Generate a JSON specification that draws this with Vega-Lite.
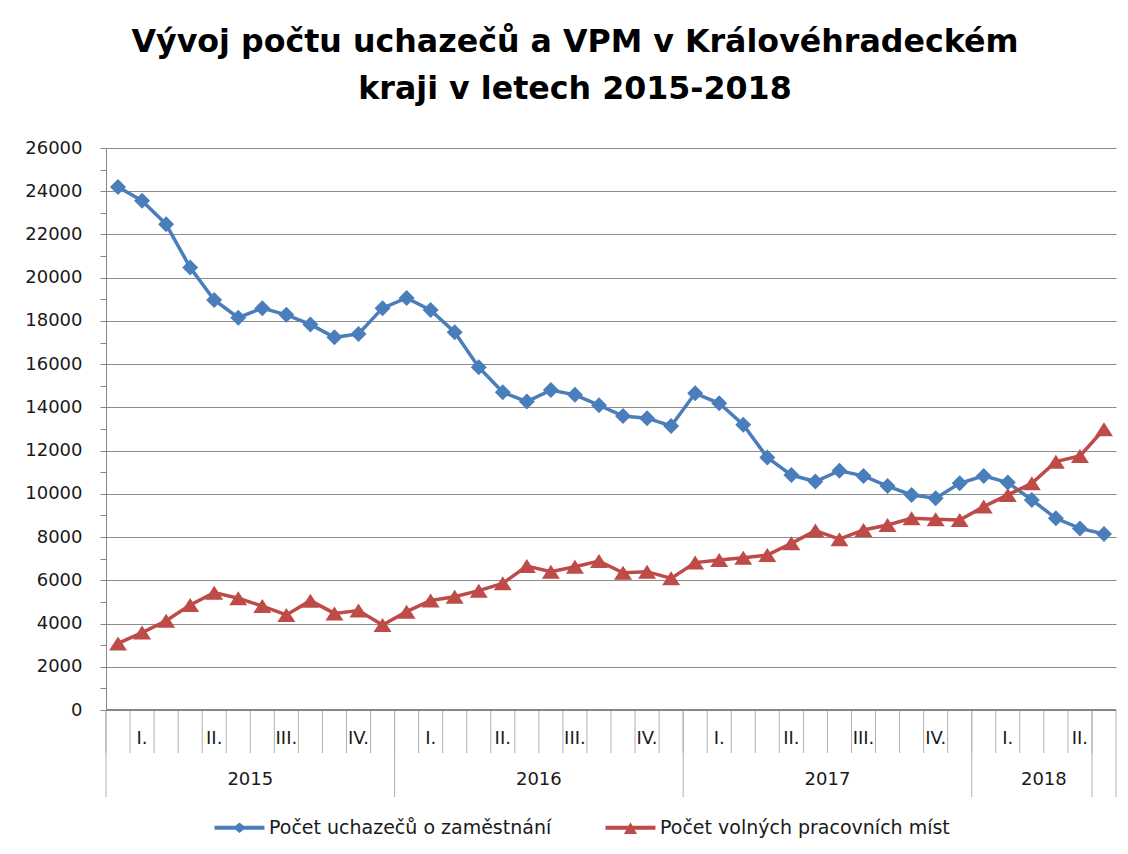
{
  "$schema": "https://vega.github.io/schema/vega-lite/v6.json",
  "width": 1010,
  "height": 562,
  "autosize": "none",
  "padding": {"left": 106, "top": 148, "right": 12, "bottom": 144},
  "background": "white",
  "title": {
    "text": ["Vývoj počtu uchazečů a VPM v Královéhradeckém", "kraji v letech 2015-2018"],
    "font": "DejaVu Sans", "fontSize": 31.7, "fontWeight": "bold", "color": "#000000",
    "lineHeight": 47, "anchor": "middle", "dx": -36, "offset": 33
  },
  "config": {
    "view": {"stroke": null},
    "legend": {"labelFont": "DejaVu Sans", "labelFontSize": 19, "labelColor": "#1a1a1a", "labelLimit": 500, "symbolStrokeWidth": 0, "symbolOpacity": 1, "symbolSize": 196, "labelOffset": 38, "columnPadding": 51}
  },
  "data": {
    "values": [
      {"month": "2015-01", "uchazeci": 24200, "vpm": 3080},
      {"month": "2015-02", "uchazeci": 23560, "vpm": 3580},
      {"month": "2015-03", "uchazeci": 22470, "vpm": 4130},
      {"month": "2015-04", "uchazeci": 20470, "vpm": 4860},
      {"month": "2015-05", "uchazeci": 18970, "vpm": 5430},
      {"month": "2015-06", "uchazeci": 18150, "vpm": 5170},
      {"month": "2015-07", "uchazeci": 18590, "vpm": 4810},
      {"month": "2015-08", "uchazeci": 18280, "vpm": 4400},
      {"month": "2015-09", "uchazeci": 17840, "vpm": 5060},
      {"month": "2015-10", "uchazeci": 17240, "vpm": 4470},
      {"month": "2015-11", "uchazeci": 17400, "vpm": 4600},
      {"month": "2015-12", "uchazeci": 18590, "vpm": 3930},
      {"month": "2016-01", "uchazeci": 19060, "vpm": 4550},
      {"month": "2016-02", "uchazeci": 18500, "vpm": 5070},
      {"month": "2016-03", "uchazeci": 17480, "vpm": 5240},
      {"month": "2016-04", "uchazeci": 15860, "vpm": 5520},
      {"month": "2016-05", "uchazeci": 14700, "vpm": 5860},
      {"month": "2016-06", "uchazeci": 14270, "vpm": 6660},
      {"month": "2016-07", "uchazeci": 14800, "vpm": 6400},
      {"month": "2016-08", "uchazeci": 14580, "vpm": 6630},
      {"month": "2016-09", "uchazeci": 14100, "vpm": 6890},
      {"month": "2016-10", "uchazeci": 13600, "vpm": 6350},
      {"month": "2016-11", "uchazeci": 13500, "vpm": 6400},
      {"month": "2016-12", "uchazeci": 13140, "vpm": 6090},
      {"month": "2017-01", "uchazeci": 14650, "vpm": 6820},
      {"month": "2017-02", "uchazeci": 14190, "vpm": 6940},
      {"month": "2017-03", "uchazeci": 13200, "vpm": 7040},
      {"month": "2017-04", "uchazeci": 11680, "vpm": 7170},
      {"month": "2017-05", "uchazeci": 10870, "vpm": 7710},
      {"month": "2017-06", "uchazeci": 10570, "vpm": 8300},
      {"month": "2017-07", "uchazeci": 11070, "vpm": 7900},
      {"month": "2017-08", "uchazeci": 10830, "vpm": 8330},
      {"month": "2017-09", "uchazeci": 10360, "vpm": 8560},
      {"month": "2017-10", "uchazeci": 9950, "vpm": 8870},
      {"month": "2017-11", "uchazeci": 9800, "vpm": 8820},
      {"month": "2017-12", "uchazeci": 10490, "vpm": 8790},
      {"month": "2018-01", "uchazeci": 10830, "vpm": 9410},
      {"month": "2018-02", "uchazeci": 10520, "vpm": 9950},
      {"month": "2018-03", "uchazeci": 9720, "vpm": 10490},
      {"month": "2018-04", "uchazeci": 8870, "vpm": 11490},
      {"month": "2018-05", "uchazeci": 8400, "vpm": 11750},
      {"month": "2018-06", "uchazeci": 8140, "vpm": 12990}
    ]
  },
  "resolve": {"axis": {"y": "independent"}},
  "layer": [
    {
      "mark": {"type": "rule", "color": "#b0b0b0", "strokeWidth": 1, "y2Offset": 43},
      "encoding": {
        "x": {"field": "month", "type": "ordinal", "bandPosition": 0, "scale": {"type": "band", "paddingInner": 0, "paddingOuter": 0}, "axis": null},
        "y": {"datum": 0, "type": "quantitative", "scale": {"domain": [0, 26000], "nice": false}, "axis": null},
        "y2": {"datum": 0}
      }
    },
    {
      "data": {"values": [
        {"year": "2015", "start": "2015-01", "mid": "2015-07"},
        {"year": "2016", "start": "2016-01", "mid": "2016-07"},
        {"year": "2017", "start": "2017-01", "mid": "2017-07"},
        {"year": "2018", "start": "2018-01", "mid": "2018-04"}
      ]},
      "layer": [
        {
          "mark": {"type": "rule", "color": "#b0b0b0", "strokeWidth": 1, "y2Offset": 87},
          "encoding": {
            "x": {"field": "start", "type": "ordinal", "bandPosition": 0, "scale": {"type": "band", "paddingInner": 0, "paddingOuter": 0}, "axis": null},
            "y": {"datum": 0, "type": "quantitative", "scale": {"domain": [0, 26000], "nice": false}, "axis": null},
            "y2": {"datum": 0}
          }
        },
        {
          "mark": {"type": "text", "font": "DejaVu Sans", "fontSize": 18, "color": "#1a1a1a", "baseline": "middle", "align": "center", "yOffset": 70},
          "encoding": {
            "x": {"field": "mid", "type": "ordinal", "bandPosition": 0, "scale": {"type": "band", "paddingInner": 0, "paddingOuter": 0}, "axis": null},
            "y": {"datum": 0, "type": "quantitative", "scale": {"domain": [0, 26000], "nice": false}, "axis": null},
            "text": {"field": "year"}
          }
        }
      ]
    },
    {
      "data": {"values": [{"m": "2018-06"}]},
      "layer": [
        {
          "mark": {"type": "rule", "color": "#b0b0b0", "strokeWidth": 1, "y2Offset": 87},
          "encoding": {
            "x": {"field": "m", "type": "ordinal", "bandPosition": 0, "scale": {"type": "band", "paddingInner": 0, "paddingOuter": 0}, "axis": null},
            "y": {"datum": 0, "type": "quantitative", "scale": {"domain": [0, 26000], "nice": false}, "axis": null},
            "y2": {"datum": 0}
          }
        },
        {
          "mark": {"type": "rule", "color": "#b0b0b0", "strokeWidth": 1, "y2Offset": 87},
          "encoding": {
            "x": {"field": "m", "type": "ordinal", "bandPosition": 1, "scale": {"type": "band", "paddingInner": 0, "paddingOuter": 0}, "axis": null},
            "y": {"datum": 0, "type": "quantitative", "scale": {"domain": [0, 26000], "nice": false}, "axis": null},
            "y2": {"datum": 0}
          }
        }
      ]
    },
    {
      "data": {"values": [
        {"q": "I.", "m": "2015-02"}, {"q": "II.", "m": "2015-05"}, {"q": "III.", "m": "2015-08"}, {"q": "IV.", "m": "2015-11"},
        {"q": "I.", "m": "2016-02"}, {"q": "II.", "m": "2016-05"}, {"q": "III.", "m": "2016-08"}, {"q": "IV.", "m": "2016-11"},
        {"q": "I.", "m": "2017-02"}, {"q": "II.", "m": "2017-05"}, {"q": "III.", "m": "2017-08"}, {"q": "IV.", "m": "2017-11"},
        {"q": "I.", "m": "2018-02"}, {"q": "II.", "m": "2018-05"}
      ]},
      "mark": {"type": "text", "font": "DejaVu Sans", "fontSize": 18, "color": "#1a1a1a", "baseline": "middle", "align": "center", "yOffset": 29},
      "encoding": {
        "x": {"field": "m", "type": "ordinal", "scale": {"type": "band", "paddingInner": 0, "paddingOuter": 0}, "axis": null},
        "y": {"datum": 0, "type": "quantitative", "scale": {"domain": [0, 26000], "nice": false}, "axis": null},
        "text": {"field": "q"}
      }
    },
    {
      "mark": {"type": "rule", "color": "#868686", "strokeWidth": 1},
      "encoding": {
        "y": {"datum": 0, "type": "quantitative", "scale": {"domain": [0, 26000], "nice": false}, "axis": null}
      }
    },
    {
      "mark": {"type": "line", "color": "#4A7EBB", "strokeWidth": 3.5},
      "encoding": {
        "x": {"field": "month", "type": "ordinal", "scale": {"type": "band", "paddingInner": 0, "paddingOuter": 0}, "axis": null},
        "y": {
          "field": "uchazeci", "type": "quantitative",
          "scale": {"domain": [0, 26000], "nice": false},
          "axis": {
            "orient": "left", "title": null,
            "values": [0,2000,4000,6000,8000,10000,12000,14000,16000,18000,20000,22000,24000,26000],
            "format": "d",
            "grid": true, "gridColor": "#8c8c8c",
            "tickSize": 6, "tickColor": "#868686", "domainColor": "#868686",
            "labelPadding": 18, "labelFont": "DejaVu Sans", "labelFontSize": 18, "labelColor": "#1a1a1a"
          }
        }
      }
    },
    {
      "mark": {"type": "line", "color": "#BE4B48", "strokeWidth": 3.5},
      "encoding": {
        "x": {"field": "month", "type": "ordinal", "scale": {"type": "band", "paddingInner": 0, "paddingOuter": 0}, "axis": null},
        "y": {"field": "vpm", "type": "quantitative", "scale": {"domain": [0, 26000], "nice": false}, "axis": null}
      }
    },
    {
      "mark": {"type": "point", "filled": true, "shape": "M0,-1L1,0L0,1L-1,0Z", "size": 256, "color": "#4A7EBB", "opacity": 1, "strokeWidth": 0},
      "encoding": {
        "x": {"field": "month", "type": "ordinal", "scale": {"type": "band", "paddingInner": 0, "paddingOuter": 0}, "axis": null},
        "y": {"field": "uchazeci", "type": "quantitative", "scale": {"domain": [0, 26000], "nice": false}, "axis": null}
      }
    },
    {
      "mark": {"type": "point", "filled": true, "shape": "M0,-0.875L1.125,0.875L-1.125,0.875Z", "size": 256, "color": "#BE4B48", "opacity": 1, "strokeWidth": 0},
      "encoding": {
        "x": {"field": "month", "type": "ordinal", "scale": {"type": "band", "paddingInner": 0, "paddingOuter": 0}, "axis": null},
        "y": {"field": "vpm", "type": "quantitative", "scale": {"domain": [0, 26000], "nice": false}, "axis": null}
      }
    },
    {
      "transform": [{"fold": ["uchazeci", "vpm"], "as": ["key", "value"]}],
      "mark": {"type": "point", "filled": true, "opacity": 0},
      "encoding": {
        "x": {"field": "month", "type": "ordinal", "scale": {"type": "band", "paddingInner": 0, "paddingOuter": 0}, "axis": null},
        "color": {
          "field": "key", "type": "nominal",
          "scale": {"domain": ["uchazeci", "vpm"], "range": ["#4A7EBB", "#BE4B48"]},
          "legend": {"title": null, "orient": "none", "legendX": 106, "legendY": 670, "direction": "horizontal",
            "labelExpr": "datum.value == 'uchazeci' ? 'Počet uchazečů o zaměstnání' : 'Počet volných pracovních míst'"}
        },
        "shape": {
          "field": "key", "type": "nominal",
          "scale": {"domain": ["uchazeci", "vpm"], "range": [
            "M-1,-0.286H6.14V0.286H-1Z M1.64,0L2.57,-0.76L3.5,0L2.57,0.76Z",
            "M-1,-0.286H6.14V0.286H-1Z M2.57,-0.8L3.5,0.9L1.64,0.9Z"
          ]},
          "legend": {"title": null, "orient": "none", "legendX": 106, "legendY": 670, "direction": "horizontal",
            "labelExpr": "datum.value == 'uchazeci' ? 'Počet uchazečů o zaměstnání' : 'Počet volných pracovních míst'"}
        }
      }
    },
    {
      "mark": {"type": "point", "opacity": 0},
      "encoding": {
        "y": {
          "field": "uchazeci", "type": "quantitative",
          "scale": {"domain": [0, 26000], "nice": false},
          "axis": {
            "orient": "left", "title": null, "grid": false, "domain": false, "labels": false,
            "values": [1000,3000,5000,7000,9000,11000,13000,15000,17000,19000,21000,23000,25000],
            "tickSize": 6, "tickColor": "#868686"
          }
        }
      }
    }
  ]
}
